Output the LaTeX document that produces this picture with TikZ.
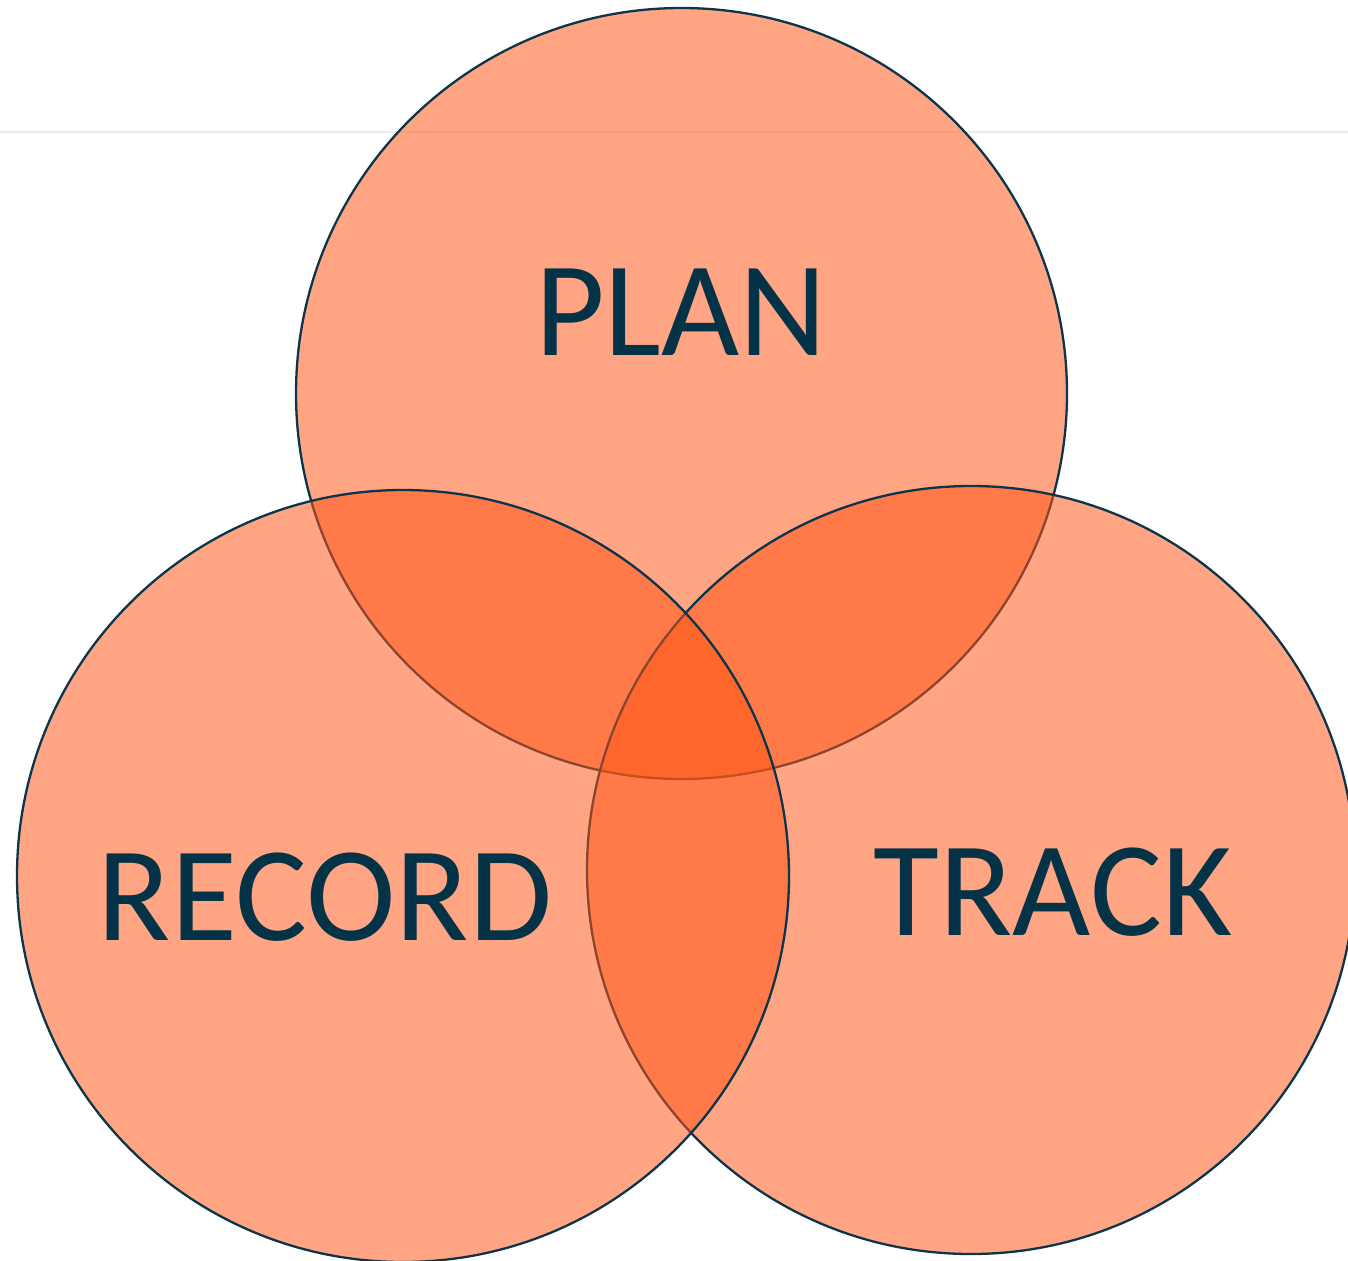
\documentclass[tikz,border=0pt]{standalone}
\usepackage{fontspec}
\setmainfont{Carlito}
\definecolor{vfill}{RGB}{255,85,20}
\definecolor{vline}{RGB}{12,52,74}
\definecolor{vtext}{RGB}{4,51,71}
\definecolor{rule}{RGB}{236,236,236}
\tikzset{
  venn/.style={circle, draw=vline, line width=2.3pt, fill=vfill, fill opacity=0.53, draw opacity=1, inner sep=0pt, minimum size=#1},
  lbl/.style={text=vtext, anchor=base, font=\fontsize{135}{135}\selectfont, inner sep=0pt, text opacity=1}
}
\begin{document}
\begin{tikzpicture}[x=1pt,y=-1pt]
\useasboundingbox (0,0) rectangle (1348,1260);
\coordinate (r0) at (0,132);
\coordinate (r1) at (1348,132);
\draw[rule, line width=2pt] (r0) -- (r1);
\node[venn=771pt] (plan) at (681.5,393.5) {};
\node[venn=768pt] (track) at (971,870) {};
\node[venn=772pt] (record) at (403,876) {};
\node[lbl] (tplan) at (681,355) {PLAN};
\node[lbl] (trecord) at (325,940) {RECORD};
\node[lbl] (ttrack) at (1053,935) {TRACK};
\end{tikzpicture}
\end{document}
